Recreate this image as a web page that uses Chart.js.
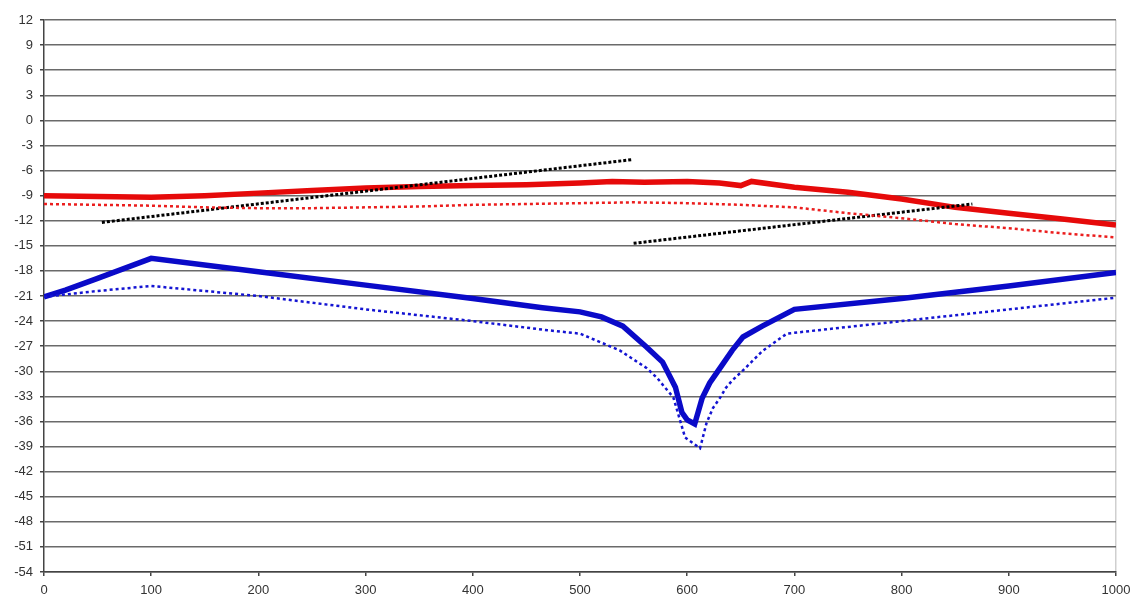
<!DOCTYPE html>
<html>
<head>
<meta charset="utf-8">
<script src="https://cdn.jsdelivr.net/npm/chart.js@4/dist/chart.umd.min.js"></script>
<style>
  html, body { margin: 0; padding: 0; background: #fff; }
  #wrap { width: 1135px; height: 606px; }
</style>
</head>
<body>
<div id="wrap"><canvas id="chart"></canvas></div>
<script>
// values
const redSolidX = [0, 50, 100, 150, 200, 250, 300, 350, 400, 450, 500, 530, 560, 600, 630, 650, 660, 700, 750, 800, 850, 900, 950, 1000];
const redSolidY = [-9.0, -9.1, -9.2, -9.0, -8.7, -8.4, -8.1, -7.9, -7.8, -7.7, -7.5, -7.3, -7.4, -7.3, -7.5, -7.8, -7.3, -8.0, -8.6, -9.4, -10.4, -11.1, -11.8, -12.5];

const redDotX = [0, 50, 100, 150, 200, 250, 300, 350, 400, 450, 500, 550, 600, 650, 700, 750, 800, 850, 900, 950, 1000];
const redDotY = [-10.0, -10.1, -10.2, -10.4, -10.5, -10.5, -10.4, -10.3, -10.1, -10.0, -9.9, -9.8, -9.9, -10.1, -10.4, -11.1, -11.7, -12.4, -12.9, -13.5, -14.0];

const blueSolidX = [0, 20, 50, 100, 200, 300, 400, 465, 500, 520, 540, 562, 577, 589, 595, 600, 607, 614, 621, 628, 642, 652, 670, 700, 800, 900, 1000];
const blueSolidY = [-21.1, -20.3, -18.9, -16.5, -18.1, -19.7, -21.3, -22.4, -22.9, -23.5, -24.6, -27.1, -28.9, -31.9, -34.9, -35.8, -36.3, -33.2, -31.4, -30.1, -27.5, -25.9, -24.6, -22.6, -21.3, -19.8, -18.2];

const blueDotX = [0, 50, 100, 200, 300, 400, 470, 500, 537, 562, 572, 579, 587, 598, 612, 618, 624, 631, 636, 642, 652, 670, 693, 750, 800, 850, 900, 950, 1000];
const blueDotY = [-21.1, -20.4, -19.8, -21.0, -22.6, -24.0, -25.1, -25.5, -27.5, -29.6, -30.8, -31.9, -33.1, -37.9, -39.2, -36.2, -34.4, -33.1, -32.0, -31.1, -29.9, -27.6, -25.5, -24.7, -24.0, -23.3, -22.6, -21.9, -21.2];

const blackAX = [54, 548];
const blackAY = [-12.2, -4.7];
const blackBX = [550, 866];
const blackBY = [-14.7, -10.0];

const xTicks = [0, 100, 200, 300, 400, 500, 600, 700, 800, 900, 1000];
const yMin = -54, yMax = 12, yStep = 3;

function pts(xs, ys) {
  return xs.map((x, i) => ({ x: x, y: ys[i] }));
}

function series(xs, ys, color, width, dash) {
  return {
    data: pts(xs, ys),
    borderColor: color,
    backgroundColor: color,
    borderWidth: width,
    borderDash: dash || [],
    showLine: true,
    pointRadius: 0,
    tension: 0,
  };
}

const ctx = document.getElementById("chart");

new Chart(ctx, {
  type: "scatter",
  data: {
    datasets: [
      series(redDotX, redDotY, "rgb(235, 30, 30)", 2.5, [3, 3]),
      series(blueDotX, blueDotY, "rgb(20, 20, 210)", 2.5, [3, 3]),
      series(blackAX, blackAY, "rgb(0, 0, 0)", 3, [3, 2]),
      series(blackBX, blackBY, "rgb(0, 0, 0)", 3, [3, 2]),
      series(redSolidX, redSolidY, "rgb(230, 10, 10)", 5.5),
      series(blueSolidX, blueSolidY, "rgb(10, 10, 200)", 5.5),
    ],
  },
  options: {
    responsive: true,
    maintainAspectRatio: false,
    animation: false,
    layout: {
      padding: { top: 20, right: 19, left: 0, bottom: 0 },
    },
    plugins: {
      legend: { display: false },
      tooltip: { enabled: false },
    },
    scales: {
      x: {
        type: "linear",
        min: 0,
        max: 1000,
        afterBuildTicks: (scale) => {
          scale.ticks = xTicks.map((v) => ({ value: v }));
        },
        afterFit: (scale) => {
          scale.height = 34;
          scale.paddingRight = 0;
        },
        border: { display: true, color: "#444", width: 1.5 },
        grid: {
          // only the right frame edge is drawn, light grey
          color: (c) => (c.tick && c.tick.value === 1000 ? "#cfcfcf" : "rgba(0,0,0,0)"),
          lineWidth: 1.5,
          drawTicks: true,
          tickLength: 4,
          tickColor: "#444",
        },
        ticks: {
          color: "#333",
          padding: 7,
          maxRotation: 0,
          callback: (v) => String(v),
          font: { family: "Liberation Sans", size: 13 },
        },
      },
      y: {
        min: yMin,
        max: yMax,
        ticks: {
          stepSize: yStep,
          color: "#333",
          padding: 7,
          font: { family: "Liberation Sans", size: 13 },
        },
        afterFit: (scale) => {
          scale.width = 44;
        },
        border: { display: true, color: "#444", width: 1.5 },
        grid: {
          color: "#6a6a6a",
          lineWidth: 1.5,
          drawTicks: true,
          tickLength: 4,
          tickColor: "#444",
        },
      },
    },
  },
});
</script>
</body>
</html>
